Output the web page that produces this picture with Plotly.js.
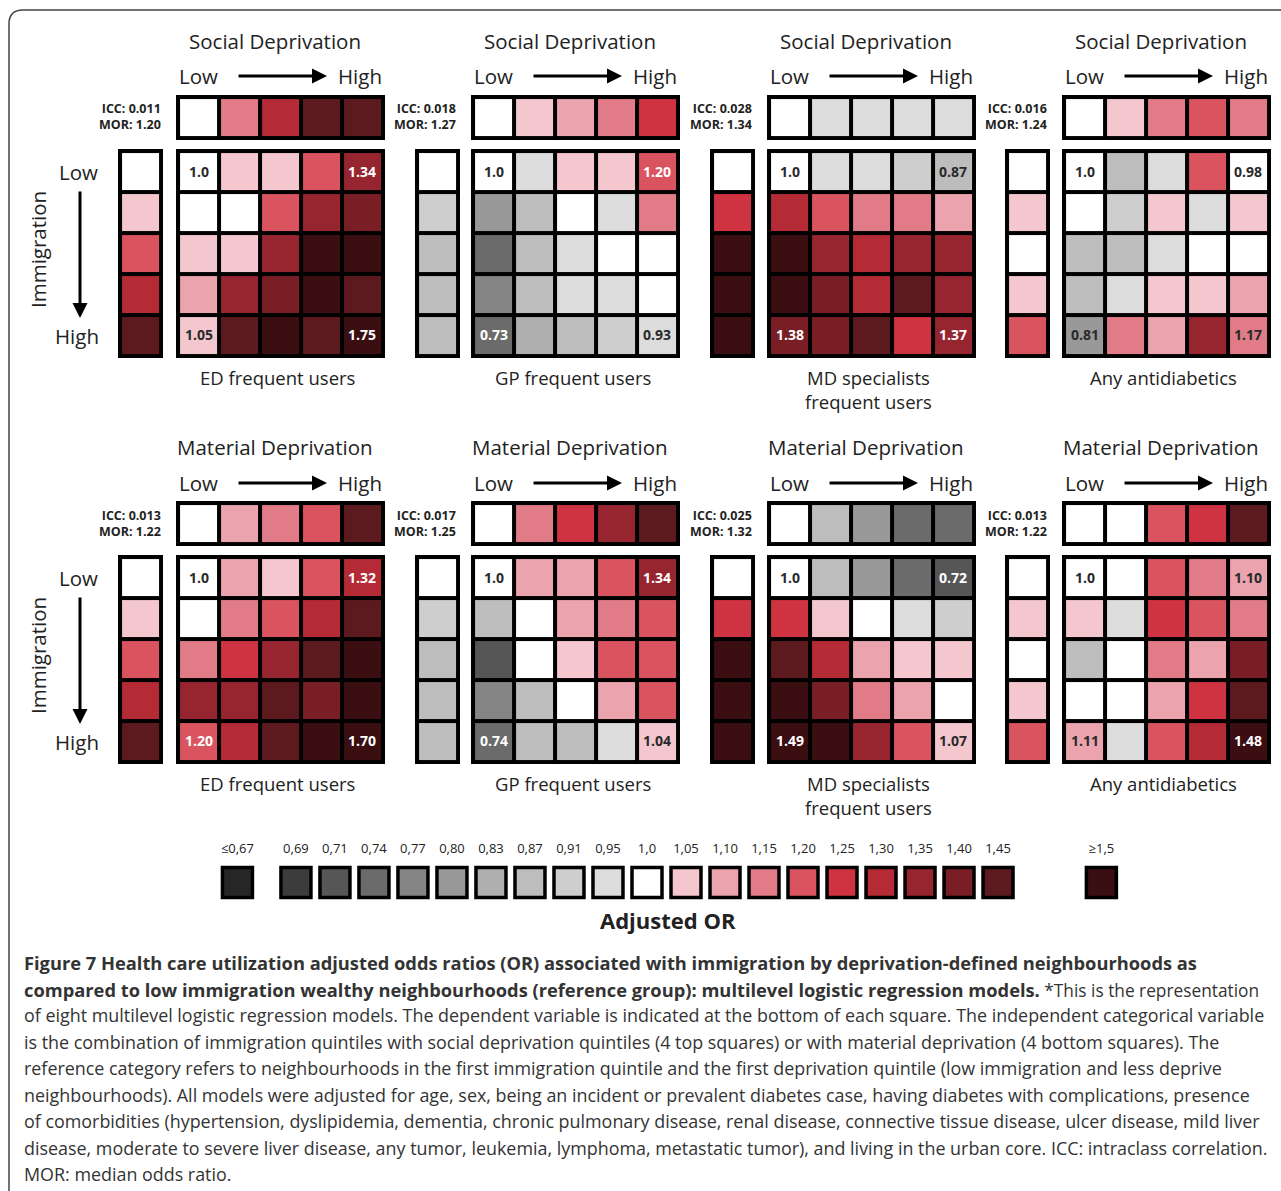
<!DOCTYPE html>
<html><head><meta charset="utf-8">
<script src="https://cdn.plot.ly/plotly-3.0.1.min.js"></script>
<style>html,body{margin:0;padding:0;background:#fff}#chart{width:1281px;height:1191px}</style>
</head><body><div id="chart"></div>
<script>
// ---------- Legend / colour scale levels (Adjusted OR) ----------
const orLevels = [0.67,0.69,0.71,0.74,0.77,0.80,0.83,0.87,0.91,0.95,1.0,1.05,1.10,1.15,1.20,1.25,1.30,1.35,1.40,1.45,1.5];
const orLevelLabels = ['≤0,67','0,69','0,71','0,74','0,77','0,80','0,83','0,87','0,91','0,95','1,0','1,05','1,10','1,15','1,20','1,25','1,30','1,35','1,40','1,45','≥1,5'];
const orLevelColors = ['#262626','#3c3c3c','#565656','#6b6b6b','#858585','#999999','#afafaf','#bdbdbd','#cecece','#dcdcdc','#ffffff',
  '#f3c7cd','#eba3ad','#e07b87','#d9545f','#cf3240','#b42a35','#962530','#7a1e26','#5c1a1f','#3b0e12'];

// ---------- Panel meta ----------
const panelDeprivation = ['Social Deprivation','Social Deprivation','Social Deprivation','Social Deprivation',
  'Material Deprivation','Material Deprivation','Material Deprivation','Material Deprivation'];
const panelOutcome = ['ED frequent users','GP frequent users','MD specialists<br>frequent users','Any antidiabetics',
  'ED frequent users','GP frequent users','MD specialists<br>frequent users','Any antidiabetics'];
const panelICC = ['0.011','0.018','0.028','0.016','0.013','0.017','0.025','0.013'];
const panelMOR = ['1.20','1.27','1.34','1.24','1.22','1.25','1.32','1.22'];

// ---------- Social deprivation × immigration ----------
const socEdDepr  = [1.0,1.15,1.30,1.45,1.45];
const socEdImmig = [1.0,1.05,1.20,1.30,1.45];
const socEdGrid  = [[1.0,1.05,1.05,1.20,1.34],[1.0,1.0,1.20,1.35,1.40],[1.05,1.05,1.35,1.5,1.5],[1.10,1.35,1.40,1.5,1.45],[1.05,1.45,1.5,1.45,1.75]];

const socGpDepr  = [1.0,1.05,1.10,1.15,1.25];
const socGpImmig = [1.0,0.91,0.87,0.87,0.87];
const socGpGrid  = [[1.0,0.95,1.05,1.05,1.20],[0.80,0.87,1.0,0.95,1.15],[0.74,0.87,0.95,1.0,1.0],[0.77,0.87,0.95,0.95,1.0],[0.73,0.83,0.87,0.91,0.93]];

const socMdDepr  = [1.0,0.95,0.95,0.95,0.95];
const socMdImmig = [1.0,1.25,1.5,1.5,1.5];
const socMdGrid  = [[1.0,0.95,0.95,0.91,0.87],[1.30,1.20,1.15,1.15,1.10],[1.5,1.35,1.30,1.35,1.35],[1.5,1.40,1.30,1.45,1.35],[1.38,1.40,1.45,1.25,1.37]];

const socAdDepr  = [1.0,1.05,1.15,1.20,1.15];
const socAdImmig = [1.0,1.05,1.0,1.05,1.20];
const socAdGrid  = [[1.0,0.87,0.95,1.20,0.98],[1.0,0.91,1.05,0.95,1.05],[0.87,0.87,0.95,1.0,1.0],[0.87,0.95,1.05,1.05,1.10],[0.81,1.15,1.10,1.35,1.17]];

// ---------- Material deprivation × immigration ----------
const matEdDepr  = [1.0,1.10,1.15,1.20,1.45];
const matEdImmig = [1.0,1.05,1.20,1.30,1.45];
const matEdGrid  = [[1.0,1.10,1.05,1.20,1.32],[1.0,1.15,1.20,1.30,1.45],[1.15,1.25,1.35,1.45,1.5],[1.35,1.35,1.45,1.40,1.5],[1.20,1.30,1.45,1.5,1.70]];

const matGpDepr  = [1.0,1.15,1.25,1.35,1.45];
const matGpImmig = [1.0,0.91,0.87,0.87,0.87];
const matGpGrid  = [[1.0,1.10,1.10,1.20,1.34],[0.87,1.0,1.10,1.15,1.20],[0.71,1.0,1.05,1.20,1.20],[0.77,0.87,1.0,1.10,1.20],[0.74,0.87,0.87,0.95,1.04]];

const matMdDepr  = [1.0,0.87,0.80,0.74,0.74];
const matMdImmig = [1.0,1.25,1.5,1.5,1.5];
const matMdGrid  = [[1.0,0.87,0.80,0.74,0.72],[1.25,1.05,1.0,0.95,0.91],[1.45,1.30,1.10,1.05,1.05],[1.5,1.40,1.15,1.10,1.0],[1.49,1.5,1.35,1.20,1.07]];

const matAdDepr  = [1.0,1.0,1.20,1.25,1.45];
const matAdImmig = [1.0,1.05,1.0,1.05,1.20];
const matAdGrid  = [[1.0,1.0,1.20,1.15,1.10],[1.05,0.95,1.25,1.20,1.15],[0.87,1.0,1.15,1.10,1.40],[1.0,1.0,1.10,1.25,1.45],[1.11,0.95,1.20,1.30,1.48]];

const captionBold = [
  'Figure 7 Health care utilization adjusted odds ratios (OR) associated with immigration by deprivation-defined neighbourhoods as',
  'compared to low immigration wealthy neighbourhoods (reference group): multilevel logistic regression models.'
];
const captionLines = [
  '',
  '<span style="font-size:17.3px"> *This is the representation</span>',
  'of eight multilevel logistic regression models. The dependent variable is indicated at the bottom of each square. The independent categorical variable',
  'is the combination of immigration quintiles with social deprivation quintiles (4 top squares) or with material deprivation (4 bottom squares). The',
  'reference category refers to neighbourhoods in the first immigration quintile and the first deprivation quintile (low immigration and less deprive',
  'neighbourhoods). All models were adjusted for age, sex, being an incident or prevalent diabetes case, having diabetes with complications, presence',
  'of comorbidities (hypertension, dyslipidemia, dementia, chronic pulmonary disease, renal disease, connective tissue disease, ulcer disease, mild liver',
  'disease, moderate to severe liver disease, any tumor, leukemia, lymphoma, metastatic tumor), and living in the urban core. ICC: intraclass correlation.',
  'MOR: median odds ratio.'
];

// ---------- build ----------
const panels = [
  {depr: socEdDepr, immig: socEdImmig, grid: socEdGrid},
  {depr: socGpDepr, immig: socGpImmig, grid: socGpGrid},
  {depr: socMdDepr, immig: socMdImmig, grid: socMdGrid},
  {depr: socAdDepr, immig: socAdImmig, grid: socAdGrid},
  {depr: matEdDepr, immig: matEdImmig, grid: matEdGrid},
  {depr: matGpDepr, immig: matGpImmig, grid: matGpGrid},
  {depr: matMdDepr, immig: matMdImmig, grid: matMdGrid},
  {depr: matAdDepr, immig: matAdImmig, grid: matAdGrid}
];

const W = 1281, H = 1191;
const ZMIN = 0.60, ZMAX = 1.80;
const colorscale = [];
for (let i = 0; i < orLevels.length; i++) {
  const lo = i === 0 ? ZMIN : (orLevels[i-1] + orLevels[i]) / 2;
  const hi = i === orLevels.length - 1 ? ZMAX : (orLevels[i] + orLevels[i+1]) / 2;
  colorscale.push([(lo - ZMIN) / (ZMAX - ZMIN), orLevelColors[i]]);
  colorscale.push([(hi - ZMIN) / (ZMAX - ZMIN), orLevelColors[i]]);
}
colorscale[0][0] = 0; colorscale[colorscale.length-1][0] = 1;

const FONT = 'Open Sans, Noto Sans, sans-serif';
const GRID_LEFT = [176, 471, 767, 1062];
const COL_LEFT = [118, 415, 710, 1005];
const STRIP_TOP = [95, 501];
const GRID_TOP = [149, 555];
const TITLE_Y = [41, 447];
const LOWHIGH_Y = [76, 483];
const BOX = 209, STRIP = 45;

const px = x => x / W;
const py = y => 1 - y / H;
const xd = (x0, w) => [x0 / W, (x0 + w) / W];
const yd = (y0, h) => [1 - (y0 + h) / H, 1 - y0 / H];

const data = [];
const layout = {
  width: W, height: H, margin: {l:0, r:0, t:0, b:0},
  paper_bgcolor: '#ffffff', plot_bgcolor: 'rgba(0,0,0,0)',
  showlegend: false, annotations: [], shapes: [],
  font: {family: FONT, color: '#222'}
};
let axN = 0;
function addAxes(xdom, ydom, nx, ny) {
  axN++;
  const sfx = axN === 1 ? '' : String(axN);
  const ax = {domain: xdom, range: nx === 1 ? [-0.55, 0.55] : [-0.55, nx - 0.45], visible: false, fixedrange: true};
  const ay = {domain: ydom, range: ny === 1 ? [0.55, -0.55] : [ny - 0.45, -0.55], visible: false, fixedrange: true};
  layout['xaxis' + sfx] = ax; layout['yaxis' + sfx] = ay;
  layout.shapes.push({type: 'rect', xref: 'x' + sfx + ' domain', yref: 'y' + sfx + ' domain',
    x0: 0, x1: 1, y0: 0, y1: 1, fillcolor: '#000', line: {width: 0}, layer: 'below'});
  return {x: 'x' + sfx, y: 'y' + sfx};
}
function heat(z, text, axes) {
  const t = {type: 'heatmap', z: z, xaxis: axes.x, yaxis: axes.y, colorscale: colorscale, zmin: ZMIN, zmax: ZMAX,
    showscale: false, xgap: 4, ygap: 4, hoverinfo: 'skip'};
  if (text) { t.text = text; t.texttemplate = '%{text}'; t.textfont = {family: FONT, size: 14, weight: 700}; }
  data.push(t);
}
const fmt = v => v === 1 ? '1.0' : v.toFixed(2);
// dark label on light cells, white label on dark cells
const labelHtml = v => {
  const c = (v > 0.775 && v < 1.175) ? '#2a2a2a' : '#ffffff';
  return '<span style="fill:' + c + '">' + fmt(v) + '</span>';
};

panels.forEach((p, k) => {
  const col = k % 4, row = Math.floor(k / 4);
  const gl = GRID_LEFT[col], cl = COL_LEFT[col];
  heat([p.depr], null, addAxes(xd(gl, BOX), yd(STRIP_TOP[row], STRIP), 5, 1));
  heat(p.immig.map(v => [v]), null, addAxes(xd(cl, STRIP), yd(GRID_TOP[row], BOX), 1, 5));
  const txt = p.grid.map((r, i) => r.map((v, j) => ((i === 0 || i === 4) && (j === 0 || j === 4)) ? labelHtml(v) : ''));
  heat(p.grid, txt, addAxes(xd(gl, BOX), yd(GRID_TOP[row], BOX), 5, 5));

  const A = layout.annotations;
  A.push({xref:'paper', yref:'paper', x: px(gl + BOX/2 - 6), y: py(TITLE_Y[row]), text: panelDeprivation[k],
    showarrow:false, font:{size:20.5, family: FONT, color:'#222'}, xanchor:'center', yanchor:'middle'});
  A.push({xref:'paper', yref:'paper', x: px(gl + 22), y: py(LOWHIGH_Y[row]), text: 'Low',
    showarrow:false, font:{size:20.5, family: FONT, color:'#222'}, xanchor:'center', yanchor:'middle'});
  A.push({xref:'paper', yref:'paper', x: px(gl + 184), y: py(LOWHIGH_Y[row]), text: 'High',
    showarrow:false, font:{size:20.5, family: FONT, color:'#222'}, xanchor:'center', yanchor:'middle'});
  A.push({xref:'paper', yref:'paper', x: px(gl + 151), y: py(LOWHIGH_Y[row]), ax: -90, ay: 0, text: '',
    showarrow:true, arrowhead:2, arrowsize:1, arrowwidth:3, arrowcolor:'#000'});
  A.push({xref:'paper', yref:'paper', x: px(gl - 13), y: py(STRIP_TOP[row] + 22), text: '<b>ICC: ' + panelICC[k] + '</b><br><b>MOR: ' + panelMOR[k] + '</b>',
    showarrow:false, font:{size:12.5, family: FONT, color:'#222'}, xanchor:'right', yanchor:'middle', align:'right'});
  A.push({xref:'paper', yref:'paper', x: px(gl + BOX/2 - 3), y: py(GRID_TOP[row] + BOX + 5), text: panelOutcome[k],
    showarrow:false, font:{size:18.5, family: FONT, color:'#222'}, xanchor:'center', yanchor:'top'});
});

// Immigration side labels
[0, 1].forEach(row => {
  const A = layout.annotations;
  const g = GRID_TOP[row];
  A.push({xref:'paper', yref:'paper', x: px(38), y: py(g + 101), text: 'Immigration', textangle: -90,
    showarrow:false, font:{size:20.5, family: FONT, color:'#222'}, xanchor:'center', yanchor:'middle'});
  A.push({xref:'paper', yref:'paper', x: px(78), y: py(g + 23), text: 'Low',
    showarrow:false, font:{size:20.5, family: FONT, color:'#222'}, xanchor:'center', yanchor:'middle'});
  A.push({xref:'paper', yref:'paper', x: px(77), y: py(g + 187), text: 'High',
    showarrow:false, font:{size:20.5, family: FONT, color:'#222'}, xanchor:'center', yanchor:'middle'});
  A.push({xref:'paper', yref:'paper', x: px(80), y: py(g + 169), ax: 0, ay: -128, text: '',
    showarrow:true, arrowhead:2, arrowsize:1, arrowwidth:3, arrowcolor:'#000'});
});

// Legend (discrete colour key)
axN++;
const lsfx = String(axN);
layout['xaxis' + lsfx] = {domain: xd(200, 940), range: [-1.46, 22.64], visible: false, fixedrange: true};
layout['yaxis' + lsfx] = {domain: yd(835, 80), range: [-1, 1], visible: false, fixedrange: true};
const legendPos = orLevels.map((v, i) => i === 0 ? -0.5 : (i === orLevels.length - 1 ? 21.65 : i));
const LEG_SQ_Y = -0.19, LEG_TXT_Y = 0.62;
data.push({type: 'scatter', mode: 'markers', xaxis: 'x' + lsfx, yaxis: 'y' + lsfx,
  x: legendPos, y: orLevels.map(() => LEG_SQ_Y),
  marker: {symbol: 'square', size: 30, color: orLevels, colorscale: colorscale, cmin: ZMIN, cmax: ZMAX,
    line: {color: '#000', width: 3.5}}, hoverinfo: 'skip'});
data.push({type: 'scatter', mode: 'text', xaxis: 'x' + lsfx, yaxis: 'y' + lsfx,
  x: legendPos, y: orLevels.map(() => LEG_TXT_Y), text: orLevelLabels, textposition: 'middle center',
  textfont: {family: FONT, size: 13, color: '#222'}, hoverinfo: 'skip'});
layout.annotations.push({xref:'paper', yref:'paper', x: px(668), y: py(920), text: '<b>Adjusted OR</b>',
  showarrow:false, font:{size:22, family: FONT, color:'#222'}, xanchor:'center', yanchor:'middle'});

// Caption
const capY = [962, 989, 1015, 1042, 1068, 1095, 1121, 1148, 1174];
captionLines.forEach((t, i) => {
  const b = captionBold[i] ? '<b><span style="font-size:18.3px">' + captionBold[i] + '</span></b>' : '';
  layout.annotations.push({xref:'paper', yref:'paper', x: px(22), y: py(capY[i]), text: b + t,
    showarrow:false, font:{size:17.9, family: FONT, color:'#333'}, xanchor:'left', yanchor:'middle', align:'left'});
});

// Rounded frame
layout.shapes.push({type: 'path', xref: 'paper', yref: 'paper',
  path: `M ${px(9)},${py(1195)} L ${px(9)},${py(24)} Q ${px(9)},${py(10)} ${px(23)},${py(10)} L ${px(1285)},${py(10)}`,
  line: {color: '#444', width: 1.5}, layer: 'above'});

Plotly.newPlot('chart', data, layout, {displayModeBar: false, staticPlot: true});
</script>
</body></html>
